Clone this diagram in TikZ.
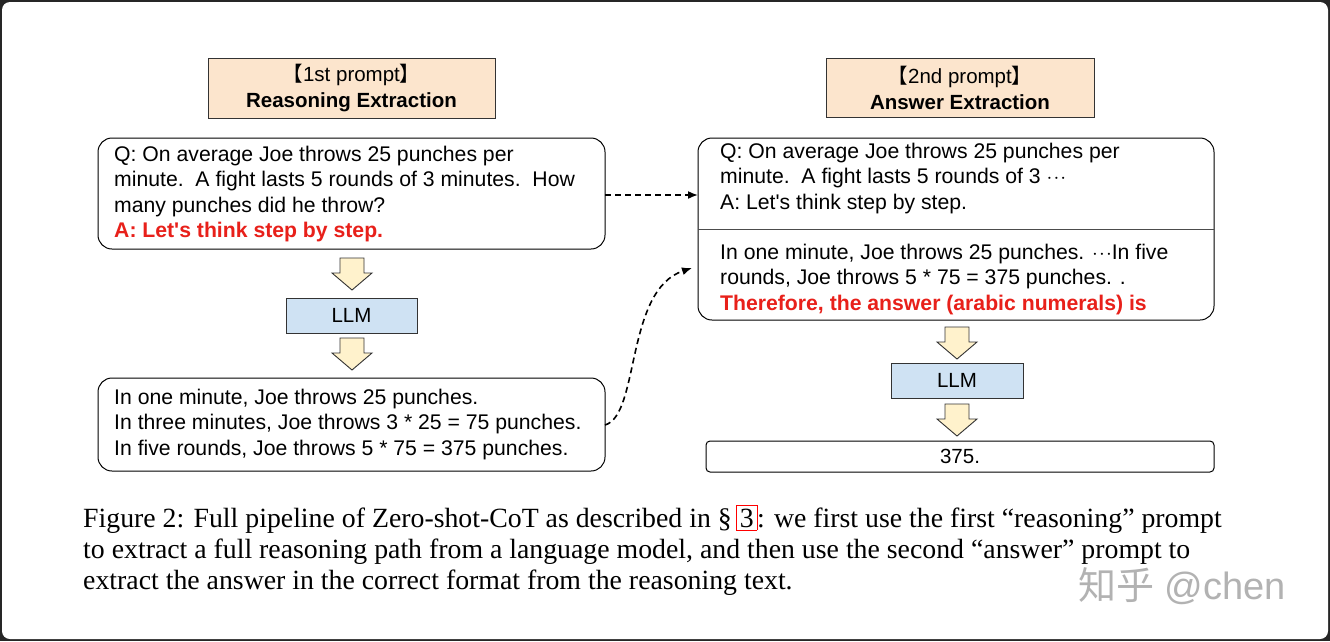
\documentclass[tikz,border=0pt]{standalone}
\usepackage{fontspec}
\setmainfont{Liberation Serif}
\newfontfamily\arial{Liberation Sans}
\newfontfamily\cjk{Noto Sans CJK SC}
\usetikzlibrary{arrows.meta}
\definecolor{peach}{HTML}{FCE5CD}
\definecolor{lblue}{HTML}{CFE2F3}
\definecolor{lyel}{HTML}{FFF2CC}
\definecolor{redt}{HTML}{E8201A}
\newcommand\mydots{\textbf{$\cdot\!\cdot\!\cdot$}}
\tikzset{
 x=1pt,y=-1pt,
 txt/.style={font=\arial\fontsize{21.2}{25.3}\selectfont,align=left,anchor=north west,inner sep=0},
 rbox/.style={draw=black,line width=1pt,rounded corners=14pt},
 hbox/.style={draw=black!80,line width=1pt,fill=peach},
 lbox/.style={draw=black!80,line width=1pt,fill=lblue},
 dasharrow/.style={dash pattern=on 6pt off 4pt,line width=1.6pt,-{Latex[length=10pt,width=8pt]}},
}
\newcommand\barrow[2]{\draw[fill=lyel,draw=black!80,line width=0.9pt] (#1-12,#2) -- (#1+12,#2) -- (#1+12,#2+15) -- (#1+20,#2+15) -- (#1,#2+32) -- (#1-20,#2+15) -- (#1-12,#2+15) -- cycle;}
\begin{document}
\begin{tikzpicture}
\fill[black!85] (0,0) rectangle (1330,641);
\fill[white,rounded corners=8pt] (2,2) rectangle (1328,639);
\useasboundingbox (0,0) rectangle (1330,641);
% headers
\node[hbox,minimum width=287,minimum height=60,align=center,font=\arial\fontsize{20.5}{26}\selectfont] (h1) at (351.5,88) {{\cjk 【}1st prompt{\cjk 】}\\\textbf{Reasoning Extraction}};
\node[hbox,minimum width=268,minimum height=59,align=center,font=\arial\fontsize{20.5}{26}\selectfont] (h2) at (960,87.5) {{\cjk 【}2nd prompt{\cjk 】}\\\textbf{Answer Extraction}};
% left
\draw[rbox] (98,138) rectangle (605,249);
\coordinate (q1r) at (605,195);
\node[txt] (q1) at (114,146) {Q: On average Joe throws 25 punches per\\minute.\ \ A fight lasts 5 rounds of 3 minutes.\ \ How\\many punches did he throw?\\\textcolor{redt}{\textbf{A: Let's think step by step.}}};
\barrow{352}{258}
\node[lbox,minimum width=131,minimum height=35,font=\arial\fontsize{20.5}{25}\selectfont] (llm1) at (351.5,315.5) {LLM};
\barrow{352}{338}
\draw[rbox] (98,378) rectangle (605,471);
\coordinate (r1r) at (605,425);
\node[txt] (r1) at (114,389) {In one minute, Joe throws 25 punches.\\In three minutes, Joe throws 3 * 25 = 75 punches.\\In five rounds, Joe throws 5 * 75 = 375 punches.};
% right
\draw[rbox] (698,138) rectangle (1214,320);
\draw[line width=0.8pt,black!70] (698,229) -- (1214,229);
\coordinate (q2l) at (698,195);
\coordinate (a2l) at (692,268);
\node[txt] (q2) at (720,143) {Q: On average Joe throws 25 punches per\\minute.\ \ A fight lasts 5 rounds of 3 \mydots\\A: Let's think step by step.};
\node[txt] (a2) at (720,244) {In one minute, Joe throws 25 punches. \mydots In five\\rounds, Joe throws 5 * 75 = 375 punches. .\\\textcolor{redt}{\textbf{Therefore, the answer (arabic numerals) is}}};
\barrow{957}{327}
\node[lbox,minimum width=132,minimum height=35,font=\arial\fontsize{20.5}{25}\selectfont] (llm2) at (957,380.5) {LLM};
\barrow{957}{404}
\node[draw=black,line width=1pt,rounded corners=4pt,minimum width=508,minimum height=31,font=\arial\fontsize{20.5}{25}\selectfont] (ans) at (960,456.5) {375.};
% connectors
\draw[dasharrow] (q1r) -- (q2l);
\draw[dasharrow] (r1r) .. controls (640,415) and (625,290) .. (a2l);
% caption
\node[anchor=north west,inner sep=0,align=left,font=\fontsize{27.8}{31}\selectfont] (cap) at (83,505) {Figure 2: Full pipeline of Zero-shot-CoT as described in \S\,\textcolor{red}{\fbox{\textcolor{black}{3}}}: we first use the first “reasoning” prompt\\to extract a full reasoning path from a language model, and then use the second “answer” prompt to\\extract the answer in the correct format from the reasoning text.};
\node[anchor=west,inner sep=0,text=black!30,font=\arial\fontsize{38}{40}\selectfont] (wm) at (1078,586) {{\cjk 知乎} @chen};
\end{tikzpicture}
\end{document}
